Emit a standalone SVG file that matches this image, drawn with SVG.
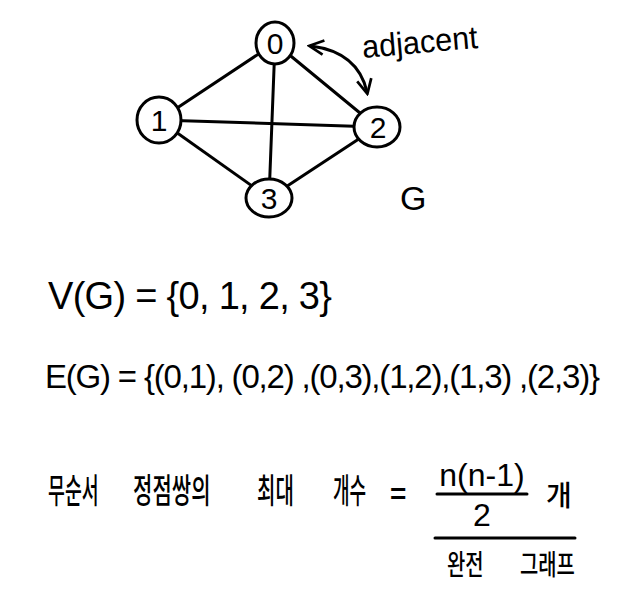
<svg xmlns="http://www.w3.org/2000/svg" width="624" height="603" viewBox="0 0 624 603">
<style>
.e{stroke:#000;stroke-width:3;fill:none;stroke-linecap:round}
.n{fill:#fff;stroke:#000;stroke-width:3}
.l{font-family:"Liberation Sans","Noto Sans CJK KR",sans-serif;fill:#000;text-anchor:middle;font-size:30px}
.t{font-family:"Liberation Sans","Noto Sans CJK KR",sans-serif;fill:#000}
.k{font-family:"Noto Sans CJK KR",sans-serif;fill:#000;font-weight:500}
</style>
<defs>
<marker id="ah" viewBox="0 0 10 10" refX="8" refY="5" markerWidth="6" markerHeight="6" orient="auto-start-reverse">
<path d="M1,1 L9,5 L1,9" fill="none" stroke="#000" stroke-width="1.5"/>
</marker>
</defs>
<g id="edges">
<line class="e" x1="275" y1="43" x2="159" y2="120"/>
<line class="e" x1="275" y1="43" x2="377" y2="127"/>
<line class="e" x1="275" y1="43" x2="269" y2="198"/>
<line class="e" x1="159" y1="120" x2="377" y2="127"/>
<line class="e" x1="159" y1="120" x2="269" y2="198"/>
<line class="e" x1="377" y1="127" x2="269" y2="198"/>
<path class="e" stroke-width="2" d="M311,46 Q358,52 367,92" marker-start="url(#ah)" marker-end="url(#ah)"/>
</g>
<g id="node0"><ellipse class="n" cx="275" cy="43" rx="19" ry="21"/><text class="l" x="275" y="54">0</text></g>
<g id="node1"><ellipse class="n" cx="159" cy="120" rx="22" ry="23"/><text class="l" x="159" y="131">1</text></g>
<g id="node2"><ellipse class="n" cx="377" cy="127" rx="23" ry="20"/><text class="l" x="378" y="138">2</text></g>
<g id="node3"><ellipse class="n" cx="269" cy="198" rx="23" ry="19"/><text class="l" x="269" y="209">3</text></g>
<text class="t" x="363" y="58" font-size="32" transform="rotate(-5 363 58)" textLength="116" lengthAdjust="spacingAndGlyphs">adjacent</text>
<text class="t" x="400" y="210" font-size="34">G</text>
<text class="t" x="48" y="309" font-size="38" textLength="284" lengthAdjust="spacing">V(G) = {0, 1, 2, 3}</text>
<text class="t" x="45" y="388" font-size="33" textLength="555" lengthAdjust="spacing">E(G) = {(0,1), (0,2) ,(0,3),(1,2),(1,3) ,(2,3)}</text>
<g class="k" font-size="34">
<text transform="translate(48 503) scale(0.54 1)">무순서</text>
<text transform="translate(133 503) scale(0.62 1)">정점쌍의</text>
<text transform="translate(257 503) scale(0.59 1)">최대</text>
<text transform="translate(333 503) scale(0.53 1)">개수</text>
</g>
<text class="t" x="390" y="503" font-size="28" font-weight="bold">=</text>
<text class="t" x="482" y="486" font-size="32" text-anchor="middle">n(n-1)</text>
<line class="e" x1="437" y1="494" x2="527" y2="494"/>
<text class="t" x="482" y="526" font-size="32" text-anchor="middle">2</text>
<text class="k" x="546" y="506" font-size="28">개</text>
<line class="e" x1="435" y1="538" x2="575" y2="538"/>
<text class="k" font-size="28" transform="translate(447 575) scale(0.71 1)">완전</text>
<text class="k" font-size="28" transform="translate(520 575) scale(0.71 1)">그래프</text>
</svg>
